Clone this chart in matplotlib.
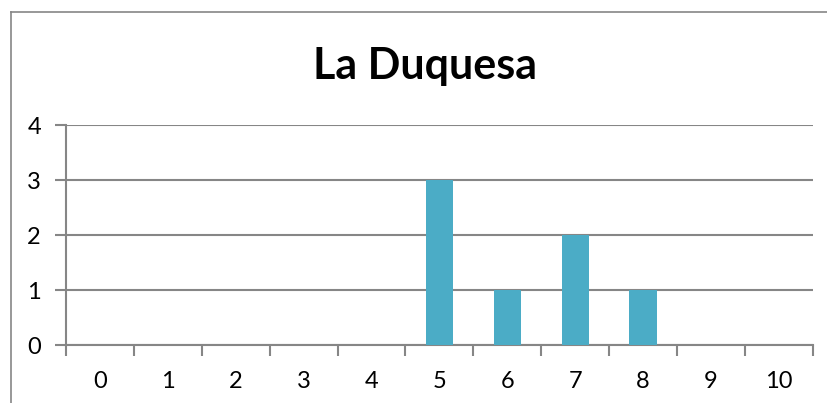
import matplotlib
matplotlib.use("Agg")
import matplotlib.pyplot as plt
from matplotlib.lines import Line2D
import numpy as np

# data
categories = [str(i) for i in range(11)]
counts = [0, 0, 0, 0, 0, 3, 1, 2, 1, 0, 0]
y_ticks = [0, 1, 2, 3, 4]
title = "La Duquesa"

BAR = "#4BACC6"
GRID = "#868686"

plt.rcParams['font.family'] = ['Lato', 'DejaVu Sans']

fig = plt.figure(figsize=(8.27, 4.03), dpi=100)
ax = fig.add_axes([0.0798, 0.1439, 0.9029, 0.5459])

x = np.arange(len(categories))
ax.bar(x, counts, width=0.4, color=BAR, zorder=3)

ax.set_xlim(-0.5, len(categories) - 0.5)
ax.set_ylim(0, 4)
ax.set_yticks(y_ticks)
ax.set_yticklabels([str(v) for v in y_ticks], fontsize=17)
ax.set_xticks(x)
ax.set_xticklabels(categories, fontsize=17)
ax.set_xticks(np.arange(-0.5, len(categories)), minor=True)

ax.tick_params(axis='x', which='major', length=0, pad=19)
ax.tick_params(axis='x', which='minor', length=8, width=1.5, color=GRID)
ax.tick_params(axis='y', length=8, width=1.5, color=GRID, pad=10)

ax.grid(axis='y', color=GRID, linewidth=1.5, zorder=0)
for s in ['top', 'right']:
    ax.spines[s].set_visible(False)
for s in ['left', 'bottom']:
    ax.spines[s].set_color(GRID)
    ax.spines[s].set_linewidth(1.5)

fig.text(0.514, 0.837, title, fontsize=31, fontweight='bold', ha='center', va='center')

# chart border
fig.add_artist(Line2D([11 / 827, 11 / 827], [0, 1 - 12 / 403], transform=fig.transFigure, color=GRID, linewidth=1.2))
fig.add_artist(Line2D([11 / 827, 1], [1 - 12 / 403, 1 - 12 / 403], transform=fig.transFigure, color=GRID, linewidth=1.2))

fig.savefig("out.png", dpi=100)
